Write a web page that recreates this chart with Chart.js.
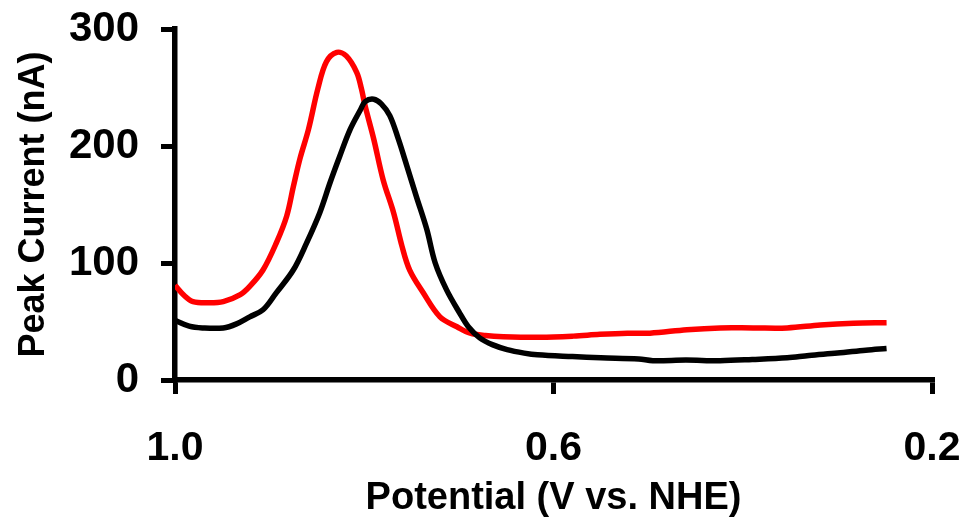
<!DOCTYPE html>
<html lang="en">
<head>
    <meta charset="UTF-8">
    <title>Peak Current vs Potential</title>
    <script src="https://cdn.jsdelivr.net/npm/chart.js"></script>
    <style>
        body {
            margin: 0;
            background: white;
        }
        #chart {
            display: block;
        }
    </style>
</head>
<body>
    <canvas id="chart" width="964" height="523"></canvas>

    <script>
        // Potential (V vs. NHE) and peak current (nA), red trace
        const redPotential = [1.000, 0.990, 0.981, 0.965, 0.949, 0.931, 0.921, 0.907, 0.893, 0.882, 0.875, 0.868,
            0.859, 0.849, 0.840, 0.829, 0.819, 0.808, 0.803, 0.799, 0.790, 0.780, 0.769, 0.760, 0.752, 0.738,
            0.720, 0.702, 0.688, 0.672, 0.653, 0.614, 0.579, 0.551, 0.522, 0.498, 0.459, 0.424, 0.389, 0.353,
            0.318, 0.283, 0.248];
        const redCurrent = [81, 72, 67, 66, 67, 73, 80, 94, 117, 140, 165, 189,
            214, 249, 272, 280, 277, 263, 249, 234, 206, 171, 143, 114, 94, 75,
            54, 45.5, 40, 38, 37, 36.5, 37.5, 39, 40, 40, 43, 44.5, 44.5, 44.5,
            47, 48.5, 49];

        // Black trace
        const blackPotential = [1.000, 0.985, 0.971, 0.949, 0.935, 0.921, 0.907, 0.893, 0.875, 0.861, 0.847, 0.836,
            0.826, 0.815, 0.804, 0.799, 0.790, 0.782, 0.773, 0.764, 0.755, 0.745, 0.734, 0.725, 0.713, 0.699,
            0.690, 0.678, 0.664, 0.649, 0.631, 0.617, 0.580, 0.550, 0.510, 0.495, 0.460, 0.424, 0.390, 0.353,
            0.330, 0.300, 0.270, 0.248];
        const blackCurrent = [51, 46, 44.5, 44.5, 48, 54, 60, 74.5, 94, 117, 143, 169,
            191, 214, 231, 238, 240, 236, 226, 206, 183, 157, 129, 100, 77, 57,
            45.5, 36, 30, 26, 23, 21.5, 20, 19, 18, 16.5, 17, 16.5, 17.5, 19,
            21, 23, 25.5, 27];

        const xTicks = [1.0, 0.6, 0.2];
        const yTicks = [0, 100, 200, 300];

        function toPoints(xs, ys) {
            return xs.map((x, i) => ({ x: x, y: ys[i] }));
        }

        const FONT = "'Liberation Sans', Arial, sans-serif";

        const ctx = document.getElementById('chart').getContext('2d');
        new Chart(ctx, {
            type: 'scatter',
            data: {
                datasets: [{
                    label: 'black',
                    data: toPoints(blackPotential, blackCurrent),
                    showLine: true,
                    borderColor: '#000000',
                    borderWidth: 5.5,
                    pointRadius: 0,
                    tension: 0.35
                }, {
                    label: 'red',
                    data: toPoints(redPotential, redCurrent),
                    showLine: true,
                    borderColor: '#ff0000',
                    borderWidth: 5.5,
                    pointRadius: 0,
                    tension: 0.35
                }]
            },
            options: {
                responsive: false,
                animation: false,
                layout: { padding: { top: 29, right: 32, left: 0, bottom: 0 } },
                plugins: {
                    legend: { display: false },
                    tooltip: { enabled: false }
                },
                scales: {
                    x: {
                        type: 'linear',
                        reverse: true,
                        min: 0.2,
                        max: 1.0,
                        afterBuildTicks: (axis) => { axis.ticks = xTicks.map(v => ({ value: v })); },
                        afterFit: (axis) => {
                            axis.height = 143;
                            // let the layout padding alone place the plot edges
                            axis.paddingLeft = 0;
                            axis.paddingRight = 0;
                        },
                        border: { display: true, color: '#000', width: 5.5 },
                        grid: { drawOnChartArea: false, drawTicks: true, tickLength: 14, color: '#000', lineWidth: 5 },
                        ticks: {
                            color: '#000',
                            padding: 30,
                            font: { family: FONT, size: 41, weight: 'bold' },
                            callback: (v) => v.toFixed(1)
                        },
                        title: {
                            display: true,
                            text: 'Potential (V vs. NHE)',
                            color: '#000',
                            padding: { top: 0, bottom: 2 },
                            font: { family: FONT, size: 38, weight: 'bold' }
                        }
                    },
                    y: {
                        min: 0,
                        max: 300,
                        afterBuildTicks: (axis) => { axis.ticks = yTicks.map(v => ({ value: v })); },
                        afterFit: (axis) => {
                            axis.width = 175;
                            axis.paddingTop = 0;
                            axis.paddingBottom = 0;
                        },
                        border: { display: true, color: '#000', width: 5.5 },
                        grid: { drawOnChartArea: false, drawTicks: true, tickLength: 14, color: '#000', lineWidth: 5 },
                        ticks: {
                            color: '#000',
                            padding: 22,
                            font: { family: FONT, size: 42, weight: 'bold' }
                        },
                        title: {
                            display: true,
                            text: 'Peak Current (nA)',
                            color: '#000',
                            padding: { top: 12, bottom: 0 },
                            font: { family: FONT, size: 36, weight: 'bold' }
                        }
                    }
                }
            }
        });
    </script>
</body>
</html>
